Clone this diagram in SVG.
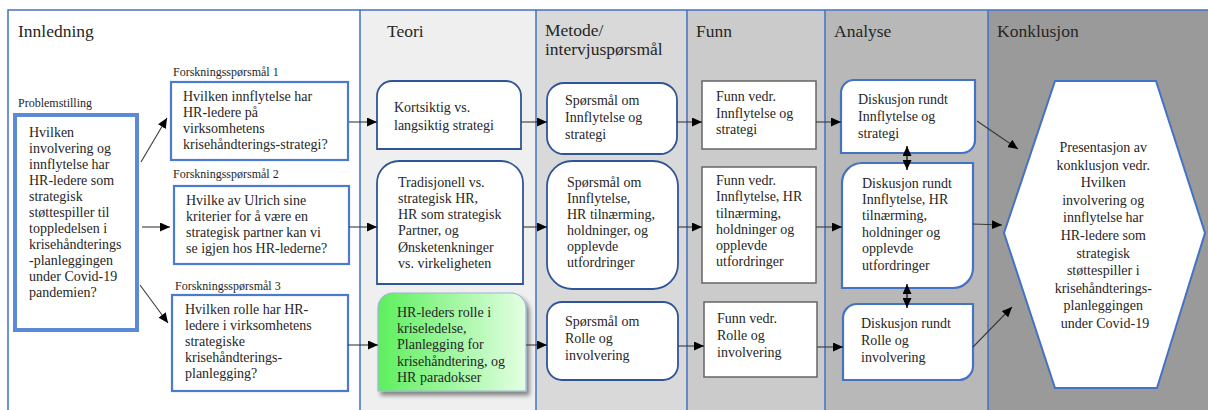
<svg xmlns="http://www.w3.org/2000/svg" width="1208" height="410" viewBox="0 0 1208 410" font-family="'Liberation Serif', 'DejaVu Serif', serif">
<style>
text{font-family:"Liberation Serif","DejaVu Serif",serif;fill:#262626;}
.hdr{font-size:17.5px;}
.lbl{font-size:12px;}
.t{font-size:14px;}
.col{stroke:none;}
.div{stroke:#4472c4;stroke-width:1.5;fill:none;}
.fsbox{fill:#fff;stroke:#4a7bd0;stroke-width:2.2;}
.dk{fill:#fff;stroke:#2f5597;stroke-width:1.8;}
.an{fill:#fff;stroke:#4472c4;stroke-width:2.2;}
.fn{fill:#fff;stroke:#666;stroke-width:1.5;}
.c{stroke:#3a3a3a;stroke-width:1.1;fill:none;marker-end:url(#ah);}
.b{stroke:#111;stroke-width:1.3;fill:none;marker-end:url(#ah);marker-start:url(#ah);}
</style>
<defs>
<marker id="ah" markerUnits="userSpaceOnUse" markerWidth="11" markerHeight="9" refX="10" refY="4.5" orient="auto-start-reverse">
<path d="M0,0 L10,4.5 L0,9 Z" fill="#000"/>
</marker>
<linearGradient id="grn" x1="0" y1="0" x2="1" y2="0">
<stop offset="0" stop-color="#5cef5c"/>
<stop offset="1" stop-color="#e4ffe4"/>
</linearGradient>
<filter id="sh" x="-10%" y="-10%" width="130%" height="130%">
<feGaussianBlur in="SourceAlpha" stdDeviation="2"/>
<feOffset dx="3" dy="4"/>
<feComponentTransfer><feFuncA type="linear" slope="0.45"/></feComponentTransfer>
<feMerge><feMergeNode/><feMergeNode in="SourceGraphic"/></feMerge>
</filter>
<clipPath id="m1clip"><rect x="540" y="80" width="140" height="62"/></clipPath>
</defs>

<g id="columns">
<rect class="col" x="8" y="10" width="352" height="400" fill="#ffffff"/>
<rect class="col" x="360" y="10" width="176" height="400" fill="#efefef"/>
<rect class="col" x="536" y="10" width="151" height="400" fill="#d9d9d9"/>
<rect class="col" x="687" y="10" width="138" height="400" fill="#cbcbcb"/>
<rect class="col" x="825" y="10" width="163" height="400" fill="#b8b8b8"/>
<rect class="col" x="988" y="10" width="220" height="400" fill="#9a9a9a"/>
<path class="div" d="M8,410 V10 H1208 M360,10 V410 M536,10 V410 M687,10 V410 M825,10 V410 M988,10 V410"/>
<text class="hdr" x="18" y="37">Innledning</text>
<text class="hdr" x="387" y="37">Teori</text>
<text class="hdr" x="545" y="36">Metode/</text>
<text class="hdr" x="545" y="55">intervjuspørsmål</text>
<text class="hdr" x="696" y="37">Funn</text>
<text class="hdr" x="834" y="37">Analyse</text>
<text class="hdr" x="997" y="37">Konklusjon</text>
</g>

<g id="problemstilling">
<text class="lbl" x="18" y="107">Problemstilling</text>
<rect x="15" y="115" width="122" height="215" fill="#fff" stroke="#5b8ad6" stroke-width="4"/>
<text class="t" x="29">
<tspan x="29" y="137">Hvilken</tspan>
<tspan x="29" y="153">involvering og</tspan>
<tspan x="29" y="169">innflytelse har</tspan>
<tspan x="29" y="185">HR-ledere som</tspan>
<tspan x="29" y="201">strategisk</tspan>
<tspan x="29" y="217">støttespiller til</tspan>
<tspan x="29" y="233">toppledelsen i</tspan>
<tspan x="29" y="249">krisehåndterings</tspan>
<tspan x="29" y="265">-planleggingen</tspan>
<tspan x="29" y="281">under Covid-19</tspan>
<tspan x="29" y="297">pandemien?</tspan>
</text>
</g>

<g id="fs1">
<text class="lbl" x="173" y="76">Forskningsspørsmål 1</text>
<rect class="fsbox" x="171" y="82" width="177" height="78"/>
<text class="t">
<tspan x="183" y="101">Hvilken innflytelse har</tspan>
<tspan x="183" y="117">HR-ledere på</tspan>
<tspan x="183" y="133">virksomhetens</tspan>
<tspan x="183" y="149">krisehåndterings-strategi?</tspan>
</text>
</g>

<g id="fs2">
<text class="lbl" x="173" y="178">Forskningsspørsmål 2</text>
<rect class="fsbox" x="174" y="186" width="175" height="78"/>
<text class="t">
<tspan x="186" y="205">Hvilke av Ulrich sine</tspan>
<tspan x="186" y="221">kriterier for å være en</tspan>
<tspan x="186" y="237">strategisk partner kan vi</tspan>
<tspan x="186" y="253">se igjen hos HR-lederne?</tspan>
</text>
</g>

<g id="fs3">
<text class="lbl" x="175" y="290">Forskningsspørsmål 3</text>
<rect class="fsbox" x="172" y="295" width="176" height="96"/>
<text class="t">
<tspan x="185" y="314">Hvilken rolle har HR-</tspan>
<tspan x="185" y="330">ledere i virksomhetens</tspan>
<tspan x="185" y="346">strategiske</tspan>
<tspan x="185" y="362">krisehåndterings-</tspan>
<tspan x="185" y="378">planlegging?</tspan>
</text>
</g>

<g id="teori1">
<path class="dk" d="M377,96 A15,15 0 0 1 392,81 H506 A15,15 0 0 1 521,96 V149 H377 Z"/>
<text class="t">
<tspan x="394" y="112">Kortsiktig vs.</tspan>
<tspan x="394" y="130">langsiktig strategi</tspan>
</text>
</g>

<g id="teori2">
<path class="dk" d="M377,183 A22,22 0 0 1 399,161 H501 A22,22 0 0 1 523,183 V284 H377 Z"/>
<text class="t">
<tspan x="398" y="187">Tradisjonell vs.</tspan>
<tspan x="398" y="203">strategisk HR,</tspan>
<tspan x="398" y="219">HR som strategisk</tspan>
<tspan x="398" y="235">Partner, og</tspan>
<tspan x="398" y="252">Ønsketenkninger</tspan>
<tspan x="398" y="268">vs. virkeligheten</tspan>
</text>
</g>

<g id="teori3">
<path d="M378,308 A15,15 0 0 1 393,293 H511 A15,15 0 0 1 526,308 V391 H378 Z" fill="url(#grn)" stroke="#9fb4d8" stroke-width="1.2" filter="url(#sh)"/>
<text class="t">
<tspan x="397" y="317">HR-leders rolle i</tspan>
<tspan x="397" y="333">kriseledelse,</tspan>
<tspan x="397" y="349">Planlegging for</tspan>
<tspan x="397" y="366">krisehåndtering, og</tspan>
<tspan x="397" y="382">HR paradokser</tspan>
</text>
</g>

<g id="metode1">
<rect class="dk" x="547" y="83" width="130" height="71" rx="17"/>
<text class="t" clip-path="url(#m1clip)">
<tspan x="565" y="105">Spørsmål om</tspan>
<tspan x="565" y="122">Innflytelse og</tspan>
<tspan x="565" y="139">strategi</tspan>
</text>
</g>

<g id="metode2">
<rect class="dk" x="547" y="161" width="131" height="128" rx="25"/>
<text class="t">
<tspan x="567" y="187">Spørsmål om</tspan>
<tspan x="567" y="203">Innflytelse,</tspan>
<tspan x="567" y="219">HR tilnærming,</tspan>
<tspan x="567" y="235">holdninger, og</tspan>
<tspan x="567" y="251">opplevde</tspan>
<tspan x="567" y="267">utfordringer</tspan>
</text>
</g>

<g id="metode3">
<rect class="dk" x="547" y="302" width="131" height="78" rx="15"/>
<text class="t">
<tspan x="565" y="326">Spørsmål om</tspan>
<tspan x="565" y="343">Rolle og</tspan>
<tspan x="565" y="360">involvering</tspan>
</text>
</g>

<g id="funn1">
<rect class="fn" x="702" y="81" width="114" height="68"/>
<text class="t">
<tspan x="716" y="101">Funn vedr.</tspan>
<tspan x="716" y="118">Innflytelse og</tspan>
<tspan x="716" y="134">strategi</tspan>
</text>
</g>

<g id="funn2">
<rect class="fn" x="702" y="167" width="114" height="116"/>
<text class="t">
<tspan x="716" y="185">Funn vedr.</tspan>
<tspan x="716" y="201">Innflytelse, HR</tspan>
<tspan x="716" y="218">tilnærming,</tspan>
<tspan x="716" y="234">holdninger og</tspan>
<tspan x="716" y="250">opplevde</tspan>
<tspan x="716" y="266">utfordringer</tspan>
</text>
</g>

<g id="funn3">
<rect class="fn" x="704" y="302" width="113" height="75"/>
<text class="t">
<tspan x="717" y="323">Funn vedr.</tspan>
<tspan x="717" y="340">Rolle og</tspan>
<tspan x="717" y="357">involvering</tspan>
</text>
</g>

<g id="analyse1">
<path class="an" d="M841,93 A13,13 0 0 1 854,80 H975 V140 A13,13 0 0 1 962,153 H841 Z"/>
<text class="t">
<tspan x="858" y="104">Diskusjon rundt</tspan>
<tspan x="858" y="121">Innflytelse og</tspan>
<tspan x="858" y="138">strategi</tspan>
</text>
</g>

<g id="analyse2">
<path class="an" d="M842,183 A20,20 0 0 1 862,163 H973 V268 A20,20 0 0 1 953,288 H842 Z"/>
<text class="t">
<tspan x="862" y="188">Diskusjon rundt</tspan>
<tspan x="862" y="204">Innflytelse, HR</tspan>
<tspan x="862" y="220">tilnærming,</tspan>
<tspan x="862" y="237">holdninger og</tspan>
<tspan x="862" y="253">opplevde</tspan>
<tspan x="862" y="270">utfordringer</tspan>
</text>
</g>

<g id="analyse3">
<path class="an" d="M843,318 A14,14 0 0 1 857,304 H973 V366 A14,14 0 0 1 959,380 H843 Z"/>
<text class="t">
<tspan x="861" y="328">Diskusjon rundt</tspan>
<tspan x="861" y="345">Rolle og</tspan>
<tspan x="861" y="362">involvering</tspan>
</text>
</g>

<g id="konklusjon">
<polygon points="1055,81 1156,81 1205,233 1157,388 1055,388 1004,233" fill="#fff" stroke="#4472c4" stroke-width="2"/>
<text class="t" text-anchor="middle">
<tspan x="1105" y="152">Presentasjon av</tspan>
<tspan x="1105" y="169.6">konklusjon vedr.</tspan>
<tspan x="1105" y="187.2">Hvilken</tspan>
<tspan x="1105" y="204.8">involvering og</tspan>
<tspan x="1105" y="222.4">innflytelse har</tspan>
<tspan x="1105" y="240">HR-ledere som</tspan>
<tspan x="1105" y="257.6">strategisk</tspan>
<tspan x="1105" y="275.2">støttespiller i</tspan>
<tspan x="1105" y="292.8">krisehåndterings-</tspan>
<tspan x="1105" y="310.4">planleggingen</tspan>
<tspan x="1105" y="328">under Covid-19</tspan>
</text>
</g>

<g id="connectors">
<path class="c" d="M141,162 L167,118"/>
<path class="c" d="M142,227 L170,227"/>
<path class="c" d="M140,285 L168,323"/>
<path class="c" d="M349,122 L377,122"/>
<path class="c" d="M349,227 L377,227"/>
<path class="c" d="M348,345 L378,345"/>
<path class="c" d="M521,122 L547,122"/>
<path class="c" d="M523,227 L547,227"/>
<path class="c" d="M526,345 L547,345"/>
<path class="c" d="M677,122 L702,122"/>
<path class="c" d="M678,227 L702,227"/>
<path class="c" d="M678,346 L704,346"/>
<path class="c" d="M816,122 L841,122"/>
<path class="c" d="M816,227 L842,227"/>
<path class="c" d="M817,347 L843,347"/>
<path class="b" d="M907,146 L907,170"/>
<path class="b" d="M907,284 L907,308"/>
<path class="c" d="M977,121 L1018,149"/>
<path class="c" d="M973,224 L1002,225"/>
<path class="c" d="M973,347 L1012,307"/>
</g>
</svg>
